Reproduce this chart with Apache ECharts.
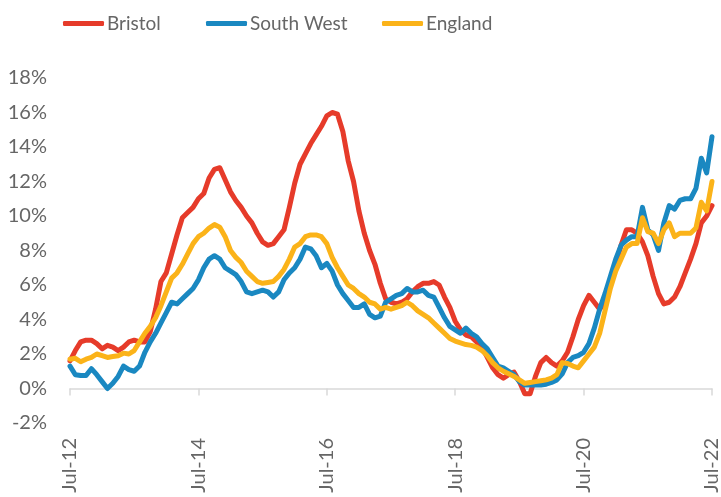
<!DOCTYPE html>
<html>
<head>
<meta charset="utf-8">
<script src="https://cdn.jsdelivr.net/npm/echarts@6/dist/echarts.min.js"></script>
<style>
  html, body { margin: 0; padding: 0; background: #fff; }
  #chart { width: 721px; height: 497px; }
</style>
</head>
<body>
<div id="chart"></div>
<script>
// monthly series, Jul-12 .. Jul-22 (annual change, %)
var monthNames = ['Jan','Feb','Mar','Apr','May','Jun','Jul','Aug','Sep','Oct','Nov','Dec'];
var months = [];
for (var i = 0; i <= 120; i++) {
  var m = (6 + i) % 12;
  var y = 12 + Math.floor((6 + i) / 12);
  months.push(monthNames[m] + '-' + y);
}

var bristol = [
  1.6, 2.2, 2.7, 2.8, 2.8, 2.6, 2.3, 2.5, 2.4, 2.2, 2.4, 2.7,
  2.8, 2.7, 2.7, 3.3, 4.6, 6.2, 6.7, 7.8, 8.9, 9.9, 10.2, 10.5,
  11.0, 11.3, 12.2, 12.7, 12.8, 12.1, 11.4, 10.9, 10.5, 10.0, 9.6, 9.0,
  8.5, 8.3, 8.4, 8.8, 9.2, 10.5, 11.9, 13.0, 13.6, 14.2, 14.7, 15.2,
  15.8, 16.0, 15.9, 14.9, 13.2, 12.0, 10.3, 9.0, 8.0, 7.2, 6.1, 5.2,
  5.0, 4.9, 5.0, 5.2, 5.6, 5.9, 6.1, 6.1, 6.2, 6.0, 5.3, 4.7,
  3.9, 3.4, 3.1, 3.0, 2.7, 2.4, 1.8, 1.2, 0.8, 0.6, 0.8, 0.95,
  0.4, -0.3, -0.3, 0.7, 1.5, 1.8, 1.5, 1.3, 1.6, 2.1, 3.0, 4.0,
  4.8, 5.4, 5.0, 4.6, 5.0, 6.0, 7.2, 8.3, 9.2, 9.2, 9.0, 8.5,
  7.7, 6.5, 5.5, 4.9, 5.0, 5.3, 5.9, 6.7, 7.5, 8.4, 9.6, 10.0,
  10.6
];

var southWest = [
  1.3, 0.8, 0.75, 0.75, 1.15, 0.8, 0.4, 0.0, 0.3, 0.7, 1.3, 1.1,
  1.0, 1.3, 2.1, 2.7, 3.2, 3.8, 4.4, 5.0, 4.9, 5.2, 5.5, 5.8,
  6.3, 7.0, 7.5, 7.7, 7.5, 7.0, 6.8, 6.6, 6.2, 5.6, 5.5, 5.6,
  5.7, 5.6, 5.3, 5.6, 6.3, 6.7, 7.0, 7.5, 8.2, 8.1, 7.7, 7.0,
  7.25, 6.8, 6.0, 5.5, 5.1, 4.7, 4.7, 4.9, 4.3, 4.1, 4.2, 5.0,
  5.2, 5.4, 5.5, 5.8, 5.6, 5.6, 5.7, 5.4, 5.3, 4.7, 4.1, 3.6,
  3.4, 3.2, 3.5, 3.2, 3.0, 2.6, 2.3, 1.8, 1.3, 1.2, 1.0, 0.8,
  0.4, 0.2, 0.2, 0.2, 0.2, 0.25, 0.35, 0.5, 0.85, 1.5, 1.8, 1.9,
  2.1, 2.6, 3.5, 4.6, 5.5, 6.5, 7.5, 8.3, 8.6, 8.8, 8.8, 10.5,
  9.2, 8.9, 8.0, 9.6, 10.6, 10.4, 10.9, 11.0, 11.0, 11.6, 13.35, 12.5,
  14.6
];

var england = [
  1.7, 1.75, 1.55, 1.7, 1.8, 2.0, 1.9, 1.8, 1.85, 1.9, 2.05, 2.0,
  2.2, 2.7, 3.2, 3.6, 4.1, 4.8, 5.6, 6.4, 6.7, 7.2, 7.8, 8.4,
  8.8, 9.0, 9.3, 9.5, 9.35, 8.8, 8.0, 7.6, 7.3, 6.8, 6.5, 6.2,
  6.1, 6.15, 6.2, 6.5, 6.9, 7.5, 8.2, 8.4, 8.8, 8.9, 8.9, 8.8,
  8.4, 7.6, 7.0, 6.5, 6.0, 5.8, 5.5, 5.3, 5.0, 4.9, 4.6, 4.7,
  4.6, 4.7, 4.8, 5.0, 4.8, 4.5, 4.3, 4.1, 3.8, 3.5, 3.2, 2.9,
  2.75, 2.65, 2.55, 2.5, 2.4, 2.2, 1.9, 1.5, 1.2, 1.0, 0.85, 0.7,
  0.5, 0.3, 0.35, 0.4, 0.45, 0.5, 0.6, 0.8, 1.5, 1.45, 1.3, 1.2,
  1.6, 2.0, 2.4, 3.2, 4.5, 5.8, 6.8, 7.5, 8.2, 8.4, 8.4, 9.9,
  9.1, 9.0, 8.4, 9.2, 9.6, 8.8, 9.0, 9.0, 9.0, 9.3, 10.8, 10.3,
  12.0
];

var colors = ['#E63B2A', '#1A88C1', '#FBB319'];
var textColor = '#666666';
var fontName = 'Lato, "Noto Sans", sans-serif';

function lineSeries(name, data, color) {
  return {
    name: name,
    type: 'line',
    data: data,
    showSymbol: false,
    symbol: 'none',
    smooth: false,
    lineStyle: { width: 5, color: color, cap: 'round', join: 'round' },
    itemStyle: { color: color },
    emphasis: { disabled: true }
  };
}

function legendAt(name, left) {
  return {
    data: [name],
    left: left,
    top: 9,
    itemWidth: 41,
    itemHeight: 5,
    itemGap: 4,
    icon: 'roundRect',
    textStyle: { color: textColor, fontSize: 19, fontFamily: fontName, padding: [0, 0, 0, -2] }
  };
}

var chart = echarts.init(document.getElementById('chart'));
var option = {
  animation: false,
  textStyle: { fontFamily: fontName },
  color: colors,
  legend: [
    legendAt('Bristol', 58),
    legendAt('South West', 201),
    legendAt('England', 377)
  ],
  grid: { left: 70, right: 9, top: 78, bottom: 74, containLabel: false, outerBoundsMode: 'none' },
  xAxis: {
    type: 'category',
    data: months,
    boundaryGap: false,
    axisLine: { show: true, onZero: true, lineStyle: { color: '#D9D9D9', width: 1.5 } },
    axisTick: { show: true, interval: 23, length: 7, lineStyle: { color: '#D9D9D9', width: 1.5 } },
    axisLabel: {
      interval: 23,
      rotate: 90,
      margin: 15,
      color: textColor,
      fontSize: 20,
      fontFamily: fontName
    },
    splitLine: { show: false }
  },
  yAxis: {
    type: 'value',
    min: -2,
    max: 18,
    interval: 2,
    axisLine: { show: false },
    axisTick: { show: false },
    splitLine: { show: false },
    axisLabel: {
      margin: 23,
      color: textColor,
      fontSize: 20,
      fontFamily: fontName,
      formatter: '{value}%'
    }
  },
  series: [
    lineSeries('Bristol', bristol, colors[0]),
    lineSeries('South West', southWest, colors[1]),
    lineSeries('England', england, colors[2])
  ]
};
chart.setOption(option);
</script>
</body>
</html>
